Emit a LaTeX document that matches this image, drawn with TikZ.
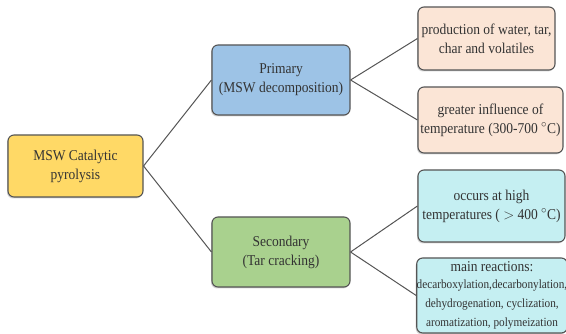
\documentclass[tikz,border=0pt]{standalone}
\usepackage{fontspec}
\setmainfont{Liberation Serif}[FakeStretch=0.9]
\usepackage{tikz}
\usetikzlibrary{positioning, shadows}
\definecolor{rootfill}{HTML}{FFD966}
\definecolor{primfill}{HTML}{9DC3E6}
\definecolor{secfill}{HTML}{A9D18E}
\definecolor{peachfill}{HTML}{FBE5D6}
\definecolor{cyanfill}{HTML}{C5EFF2}
\definecolor{edgegray}{HTML}{555555}
\definecolor{txtgray}{HTML}{333333}
\newcommand{\reacsize}{\fontsize{12.5}{15}\selectfont}

\begin{document}
\begin{tikzpicture}[x=1pt, y=1pt,
    box/.style={draw=edgegray, line width=1.1pt, rounded corners=6pt, align=center, inner sep=0pt,
      text=txtgray, font=\fontsize{15}{19}\selectfont,
      drop shadow={shadow xshift=-1pt, shadow yshift=-1.5pt, opacity=0.35}},
    link/.style={draw=edgegray, line width=1pt}]
  \useasboundingbox (0,0) rectangle (566,334);
  \node[box, fill=rootfill, minimum width=135, minimum height=62] (root) at (75.5,168) {MSW Catalytic\\pyrolysis};
  \node[box, fill=primfill, minimum width=138, minimum height=70] (prim) at (281,254) {Primary\\(MSW decomposition)};
  \node[box, fill=secfill, minimum width=138, minimum height=70] (sec) at (281,82) {Secondary\\(Tar cracking)};
  \node[box, fill=peachfill, minimum width=137, minimum height=63] (prod) at (486.5,295.5) {production of water, tar,\\char and volatiles};
  \node[box, fill=peachfill, minimum width=145, minimum height=66] (temp) at (490.5,214) {greater influence of\\temperature (300-700 $^{\circ}$C)};
  \node[box, fill=cyanfill, minimum width=147, minimum height=72] (high) at (491.5,128) {occurs at high\\temperatures ( $>$ 400 $^{\circ}$C)};
  \node[box, fill=cyanfill, minimum width=148, minimum height=75] (reac) at (492,38.5)
    {main reactions:\\[-2pt]\reacsize decarboxylation,decarbonylation,\\\reacsize dehydrogenation, cyclization,\\\reacsize aromatization, polymeization};
  \draw[link] (root.east) -- (prim.west);
  \draw[link] (root.east) -- (sec.west);
  \draw[link] (prim.east) -- (prod.west);
  \draw[link] (prim.east) -- (temp.west);
  \draw[link] (sec.east) -- (high.west);
  \draw[link] (sec.east) -- (reac.west);
\end{tikzpicture}
\end{document}
